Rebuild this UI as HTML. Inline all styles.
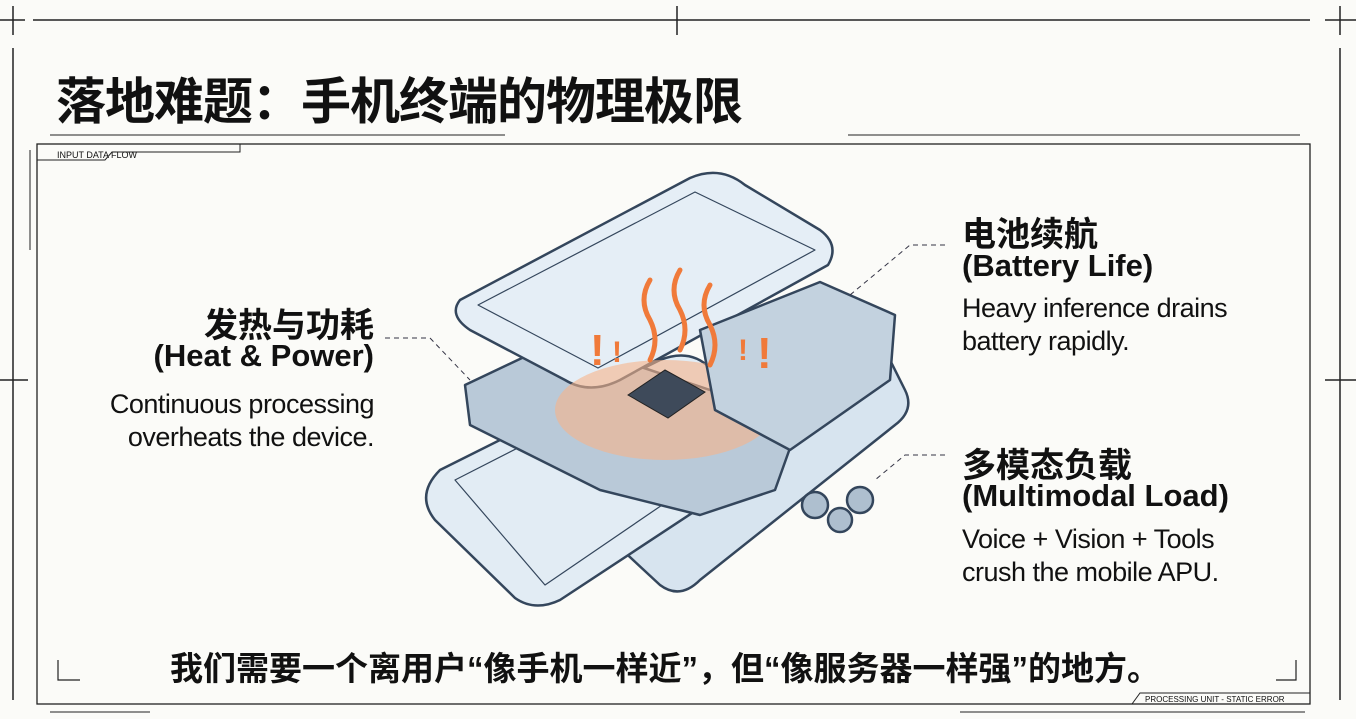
<!DOCTYPE html>
<html><head><meta charset="utf-8"><style>
body{margin:0;width:1356px;height:719px;background:#fbfbf8;overflow:hidden;position:relative;font-family:"Liberation Sans","Noto Sans CJK SC",sans-serif;color:#111}
.t{position:absolute;white-space:nowrap}
</style></head><body>
<svg width="1356" height="719" style="position:absolute;left:0;top:0">
<g stroke="#222" fill="none" stroke-width="1.5">
<line x1="33" y1="20" x2="1310" y2="20"/>
<line x1="0" y1="20" x2="25" y2="20"/><line x1="13" y1="6" x2="13" y2="35"/>
<line x1="677" y1="6" x2="677" y2="35"/>
<line x1="1325" y1="20" x2="1356" y2="20"/><line x1="1340" y1="6" x2="1340" y2="35"/>
<line x1="13" y1="48" x2="13" y2="700"/><line x1="1340" y1="48" x2="1340" y2="700"/>
<line x1="0" y1="380" x2="28" y2="380"/><line x1="1325" y1="380" x2="1356" y2="380"/>
<rect x="37" y="144" width="1273" height="560" stroke-width="1.3"/>
<path d="M37 160 H105 L112 152 H240 V144" stroke-width="1"/>
<path d="M1132 704 L1140 693 H1310" stroke-width="1"/>
<line x1="50" y1="135" x2="505" y2="135" stroke-width="1"/>
<line x1="848" y1="135" x2="1300" y2="135" stroke-width="1"/>
<line x1="50" y1="712" x2="150" y2="712" stroke-width="1"/>
<line x1="960" y1="712" x2="1305" y2="712" stroke-width="1"/>
<line x1="30" y1="150" x2="30" y2="250" stroke-width="1"/>
<path d="M58 660 V680 H80 M1296 660 V680 H1276" stroke-width="1.2"/>
</g>
<g stroke="#34465c" stroke-width="2.5" fill="#dbe7f1" stroke-linejoin="round">
<path d="M560 470 L830 330 Q860 318 880 340 L905 390 Q915 410 895 425 L700 580 Q680 600 660 585 L590 520 Q560 495 560 470Z" fill="#d7e4ef"/>
<path d="M440 470 L660 360 Q690 348 710 368 L770 430 Q785 450 765 465 L560 600 Q535 612 515 598 L435 520 Q415 495 440 470Z" fill="#e2ecf4"/>
<path d="M455 480 L655 378 L750 445 L545 585 Z" fill="none" stroke-width="1.2"/>
<path d="M465 385 L560 340 L800 420 L775 490 L700 515 L600 490 L520 450 L470 425Z" fill="#b9c9d8"/>
<path d="M460 300 L690 178 Q720 165 745 185 L820 230 Q840 245 828 265 L620 380 Q590 395 565 380 L470 330 Q448 315 460 300Z" fill="#e5eef6"/>
<path d="M478 305 L695 192 L815 250 L598 368 Z" fill="none" stroke-width="1.2"/>
</g>
<ellipse cx="665" cy="410" rx="110" ry="50" fill="#f7b48a" opacity=".6"/>
<g stroke="#34465c" stroke-width="2.5" stroke-linejoin="round">
<path d="M700 330 L820 282 L895 315 L890 380 L790 450 L715 410Z" fill="#c3d2df"/>
<circle cx="815" cy="505" r="13" fill="#aebfcf"/><circle cx="860" cy="500" r="13" fill="#aebfcf"/><circle cx="840" cy="520" r="12" fill="#aebfcf"/>
</g>
<g stroke="#f07a3a" stroke-width="5" fill="none" stroke-linecap="round">
<path d="M650 280 q-12 20 0 40 q10 20 0 40"/><path d="M680 270 q-12 20 0 40 q10 20 0 40"/><path d="M710 285 q-12 20 0 40 q10 20 0 40"/>
</g>
<path d="M628 395 L665 370 L705 392 L668 418Z" fill="#3e4a5a" stroke="#222"/>
<g fill="#f07a3a" font-family="Liberation Sans" font-weight="bold"><text x="590" y="365" font-size="44">!</text><text x="612" y="362" font-size="30">!</text><text x="738" y="360" font-size="30">!</text><text x="757" y="368" font-size="44">!</text></g>
<g stroke="#334" stroke-width="1" stroke-dasharray="5 4" fill="none">
<path d="M385 338 H430 L470 380"/><path d="M945 245 H910 L850 295"/><path d="M945 455 H905 L875 480"/>
</g>
</svg>
<div class="t" style="left:56px;top:62px;font-size:50px;font-weight:bold;letter-spacing:-1px">落地难题：手机终端的物理极限</div>
<div class="t" style="left:57px;top:150px;font-size:9px">INPUT DATA FLOW</div>
<div class="t" style="left:1145px;top:695px;font-size:8px">PROCESSING UNIT - STATIC ERROR</div>
<div class="t" style="right:982px;top:298px;font-size:34px;font-weight:bold;text-align:right">发热与功耗</div>
<div class="t" style="right:982px;top:338px;font-size:31px;font-weight:bold">(Heat &amp; Power)</div>
<div class="t" style="right:982px;top:388px;font-size:27px;text-align:right;line-height:33px;letter-spacing:-.5px">Continuous processing<br>overheats the device.</div>
<div class="t" style="left:962px;top:207px;font-size:34px;font-weight:bold">电池续航</div>
<div class="t" style="left:962px;top:248px;font-size:31px;font-weight:bold">(Battery Life)</div>
<div class="t" style="left:962px;top:292px;font-size:27px;line-height:33px;letter-spacing:-.5px">Heavy inference drains<br>battery rapidly.</div>
<div class="t" style="left:962px;top:438px;font-size:34px;font-weight:bold">多模态负载</div>
<div class="t" style="left:962px;top:478px;font-size:31px;font-weight:bold">(Multimodal Load)</div>
<div class="t" style="left:962px;top:523px;font-size:27px;line-height:33px;letter-spacing:-.5px">Voice + Vision + Tools<br>crush the mobile APU.</div>
<div class="t" style="left:170px;top:642px;font-size:33px;font-weight:bold">我们需要一个离用户“像手机一样近”，但“像服务器一样强”的地方。</div>
</body></html>
